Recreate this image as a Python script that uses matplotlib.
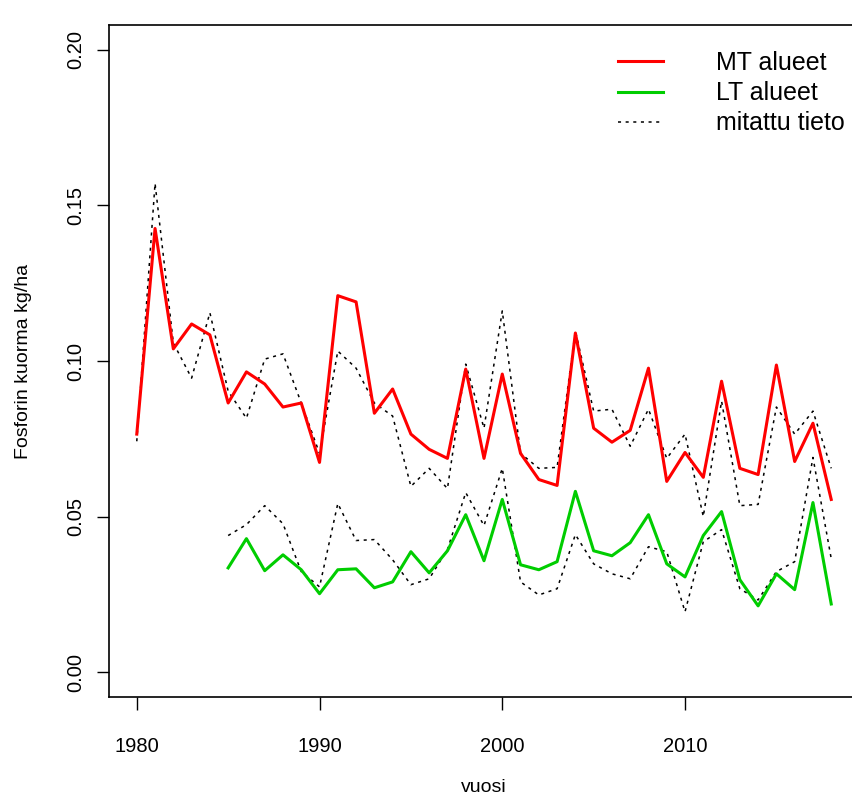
import matplotlib.pyplot as plt
from matplotlib.ticker import FormatStrFormatter

plt.rcParams['font.family'] = ['Liberation Sans', 'DejaVu Sans']

years = list(range(1980, 2019))
lt_years = list(range(1985, 2019))

# MT alueet (malli) ja mitattu tieto
mt_model = [0.0765, 0.1426, 0.1039, 0.1119, 0.1084, 0.0865, 0.0965, 0.0926, 0.0852, 0.0865,
            0.0674, 0.1210, 0.1190, 0.0832, 0.0910, 0.0765, 0.0716, 0.0687, 0.0974, 0.0687,
            0.0958, 0.0703, 0.0619, 0.0600, 0.1090, 0.0784, 0.0739, 0.0777, 0.0977, 0.0613,
            0.0706, 0.0626, 0.0935, 0.0655, 0.0635, 0.0987, 0.0677, 0.0800, 0.0555]
mt_measured = [0.0742, 0.1571, 0.1058, 0.0945, 0.1155, 0.0903, 0.0816, 0.1006, 0.1023, 0.0865,
               0.0703, 0.1032, 0.0977, 0.0865, 0.0823, 0.0597, 0.0655, 0.0590, 0.0990, 0.0784,
               0.1161, 0.0703, 0.0655, 0.0658, 0.1097, 0.0839, 0.0845, 0.0726, 0.0845, 0.0687,
               0.0765, 0.0500, 0.0871, 0.0535, 0.0539, 0.0852, 0.0765, 0.0839, 0.0655]

# LT alueet (malli) ja mitattu tieto
lt_model = [0.0335, 0.0429, 0.0326, 0.0377, 0.0329, 0.0252, 0.0329, 0.0332, 0.0271, 0.0290,
            0.0387, 0.0319, 0.0390, 0.0506, 0.0358, 0.0555, 0.0345, 0.0329, 0.0355, 0.0581,
            0.0390, 0.0374, 0.0416, 0.0506, 0.0348, 0.0306, 0.0439, 0.0516, 0.0297, 0.0213,
            0.0316, 0.0265, 0.0545, 0.0219]
lt_measured = [0.0439, 0.0474, 0.0535, 0.0477, 0.0323, 0.0274, 0.0542, 0.0423, 0.0426, 0.0361,
               0.0281, 0.0300, 0.0394, 0.0577, 0.0471, 0.0655, 0.0290, 0.0248, 0.0268, 0.0442,
               0.0348, 0.0316, 0.0300, 0.0403, 0.0387, 0.0194, 0.0419, 0.0458, 0.0268, 0.0232,
               0.0323, 0.0355, 0.0690, 0.0365]

x_ticks = [1980, 1990, 2000, 2010]
y_ticks = [0.00, 0.05, 0.10, 0.15, 0.20]

fig = plt.figure(figsize=(8.52, 7.99), dpi=100)
ax = fig.add_axes([109 / 852, 102 / 799, 750 / 852, 672 / 799])

dot = (0, (2, 3))
ax.plot(years, mt_measured, color='black', lw=1.1, linestyle=dot)
ax.plot(lt_years, lt_measured, color='black', lw=1.1, linestyle=dot)
ax.plot(years, mt_model, color='#FF0000', lw=2.2)
ax.plot(lt_years, lt_model, color='#00CD00', lw=2.2)

ax.set_xlim(1978.48, 2019.52)
ax.set_ylim(-0.008, 0.208)
ax.set_xticks(x_ticks)
ax.set_yticks(y_ticks)
ax.yaxis.set_major_formatter(FormatStrFormatter('%.2f'))
ax.tick_params(direction='out', length=9, width=1, labelsize=14.5)
ax.tick_params(axis='x', pad=20)
ax.tick_params(axis='y', pad=8)
for lab in ax.get_yticklabels():
    lab.set_rotation(90)
    lab.set_va('center')

for s in ax.spines.values():
    s.set_linewidth(1.2)

ax.set_xlabel('vuosi', fontsize=14, labelpad=16)
ax.set_ylabel('Fosforin kuorma kg/ha', fontsize=14, labelpad=25)

h1, = ax.plot([], [], color='#FF0000', lw=2.2)
h2, = ax.plot([], [], color='#00CD00', lw=2.2)
h3, = ax.plot([], [], color='black', lw=1.1, linestyle=dot)
fig.legend([h1, h2, h3], ['MT alueet', 'LT alueet', 'mitattu tieto'],
           loc='upper left', bbox_to_anchor=(618 / 852, 1 - 51 / 799),
           frameon=False, fontsize=18, handlelength=1.8, handletextpad=2.1,
           labelspacing=0.25, borderpad=0, borderaxespad=0)

fig.savefig('out.png', dpi=100)
